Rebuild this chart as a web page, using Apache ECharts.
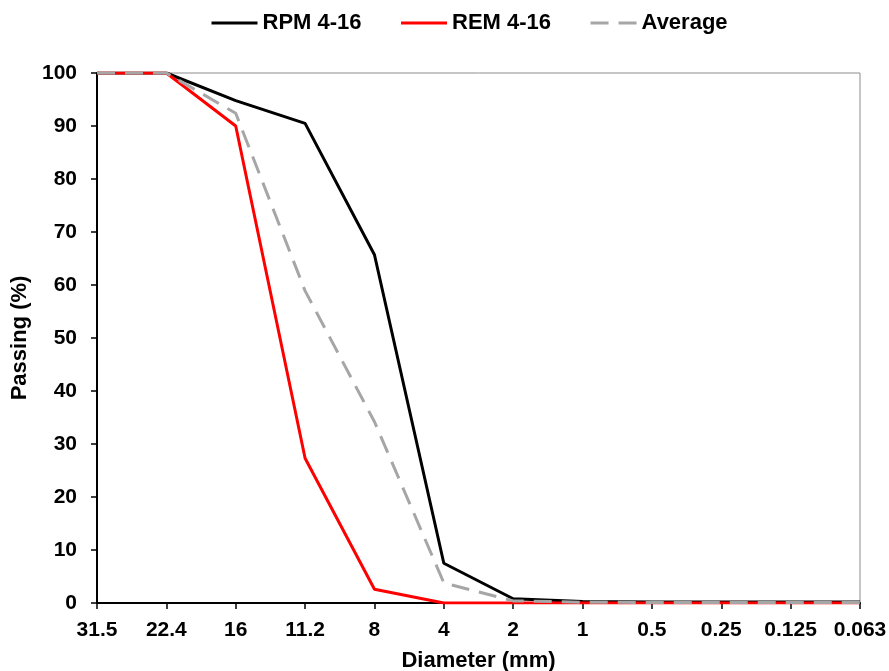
<!DOCTYPE html>
<html><head><meta charset="utf-8">
<script src="https://cdn.jsdelivr.net/npm/echarts@6/dist/echarts.min.js"></script>
<style>html,body{margin:0;padding:0;background:#fff}#c{width:889px;height:671px}</style>
</head><body><div id="c"></div>
<script>
const categories = ['31.5','22.4','16','11.2','8','4','2','1','0.5','0.25','0.125','0.063'];
const rpm = [100, 100, 94.8, 90.5, 65.7, 7.5, 0.8, 0.3, 0.2, 0.2, 0.2, 0.2];
const rem = [100, 100, 90.0, 27.3, 2.6, 0, 0, 0, 0, 0, 0, 0];
const avg = [100, 100, 92.4, 58.9, 34.2, 3.8, 0.4, 0.15, 0.1, 0.1, 0.1, 0.1];
const yTicks = {min: 0, max: 100, interval: 10};

const font = 'Liberation Sans, Arial, sans-serif';
const chart = echarts.init(document.getElementById('c'), null, {renderer: 'canvas'});
chart.setOption({
  animation: false,
  legend: {
    top: 7, left: 205, itemWidth: 46, itemHeight: 14, itemGap: 38,
    itemStyle: {opacity: 0},
    lineStyle: {width: 3},
    textStyle: {fontFamily: font, fontWeight: 'bold', fontSize: 22, color: '#000'},
    data: ['RPM 4-16', 'REM 4-16', 'Average']
  },
  grid: {left: 97, right: 29, top: 73, bottom: 68, show: true, borderColor: '#8c8c8c', borderWidth: 1, outerBoundsMode: 'none', containLabel: false},
  xAxis: {
    type: 'category', data: categories, boundaryGap: false,
    name: 'Diameter (mm)', nameLocation: 'middle', nameGap: 47,
    nameTextStyle: {fontFamily: font, fontWeight: 'bold', fontSize: 22, color: '#000'},
    axisLine: {lineStyle: {color: '#000', width: 2}},
    axisTick: {show: true, length: 6, lineStyle: {color: '#000', width: 1.5}},
    axisLabel: {fontFamily: font, fontWeight: 'bold', fontSize: 21, color: '#000', margin: 17, interval: 0},
    splitLine: {show: false}
  },
  yAxis: {
    type: 'value', min: yTicks.min, max: yTicks.max, interval: yTicks.interval,
    name: 'Passing (%)', nameLocation: 'middle', nameGap: 57, nameRotate: 90,
    nameTextStyle: {fontFamily: font, fontWeight: 'bold', fontSize: 22, color: '#000'},
    axisLine: {show: true, lineStyle: {color: '#000', width: 2}},
    axisTick: {show: true, length: 6, lineStyle: {color: '#000', width: 1.5}},
    axisLabel: {fontFamily: font, fontWeight: 'bold', fontSize: 21, color: '#000', margin: 20},
    splitLine: {show: false}
  },
  series: [
    {name: 'RPM 4-16', type: 'line', data: rpm, symbol: 'none', lineStyle: {color: '#000', width: 3}, itemStyle: {color: '#000'}},
    {name: 'REM 4-16', type: 'line', data: rem, symbol: 'none', lineStyle: {color: '#ff0000', width: 3}, itemStyle: {color: '#ff0000'}},
    {name: 'Average', type: 'line', data: avg, symbol: 'none', lineStyle: {color: '#a6a6a6', width: 3, type: [18, 10]}, itemStyle: {color: '#a6a6a6'}}
  ]
});
</script></body></html>
